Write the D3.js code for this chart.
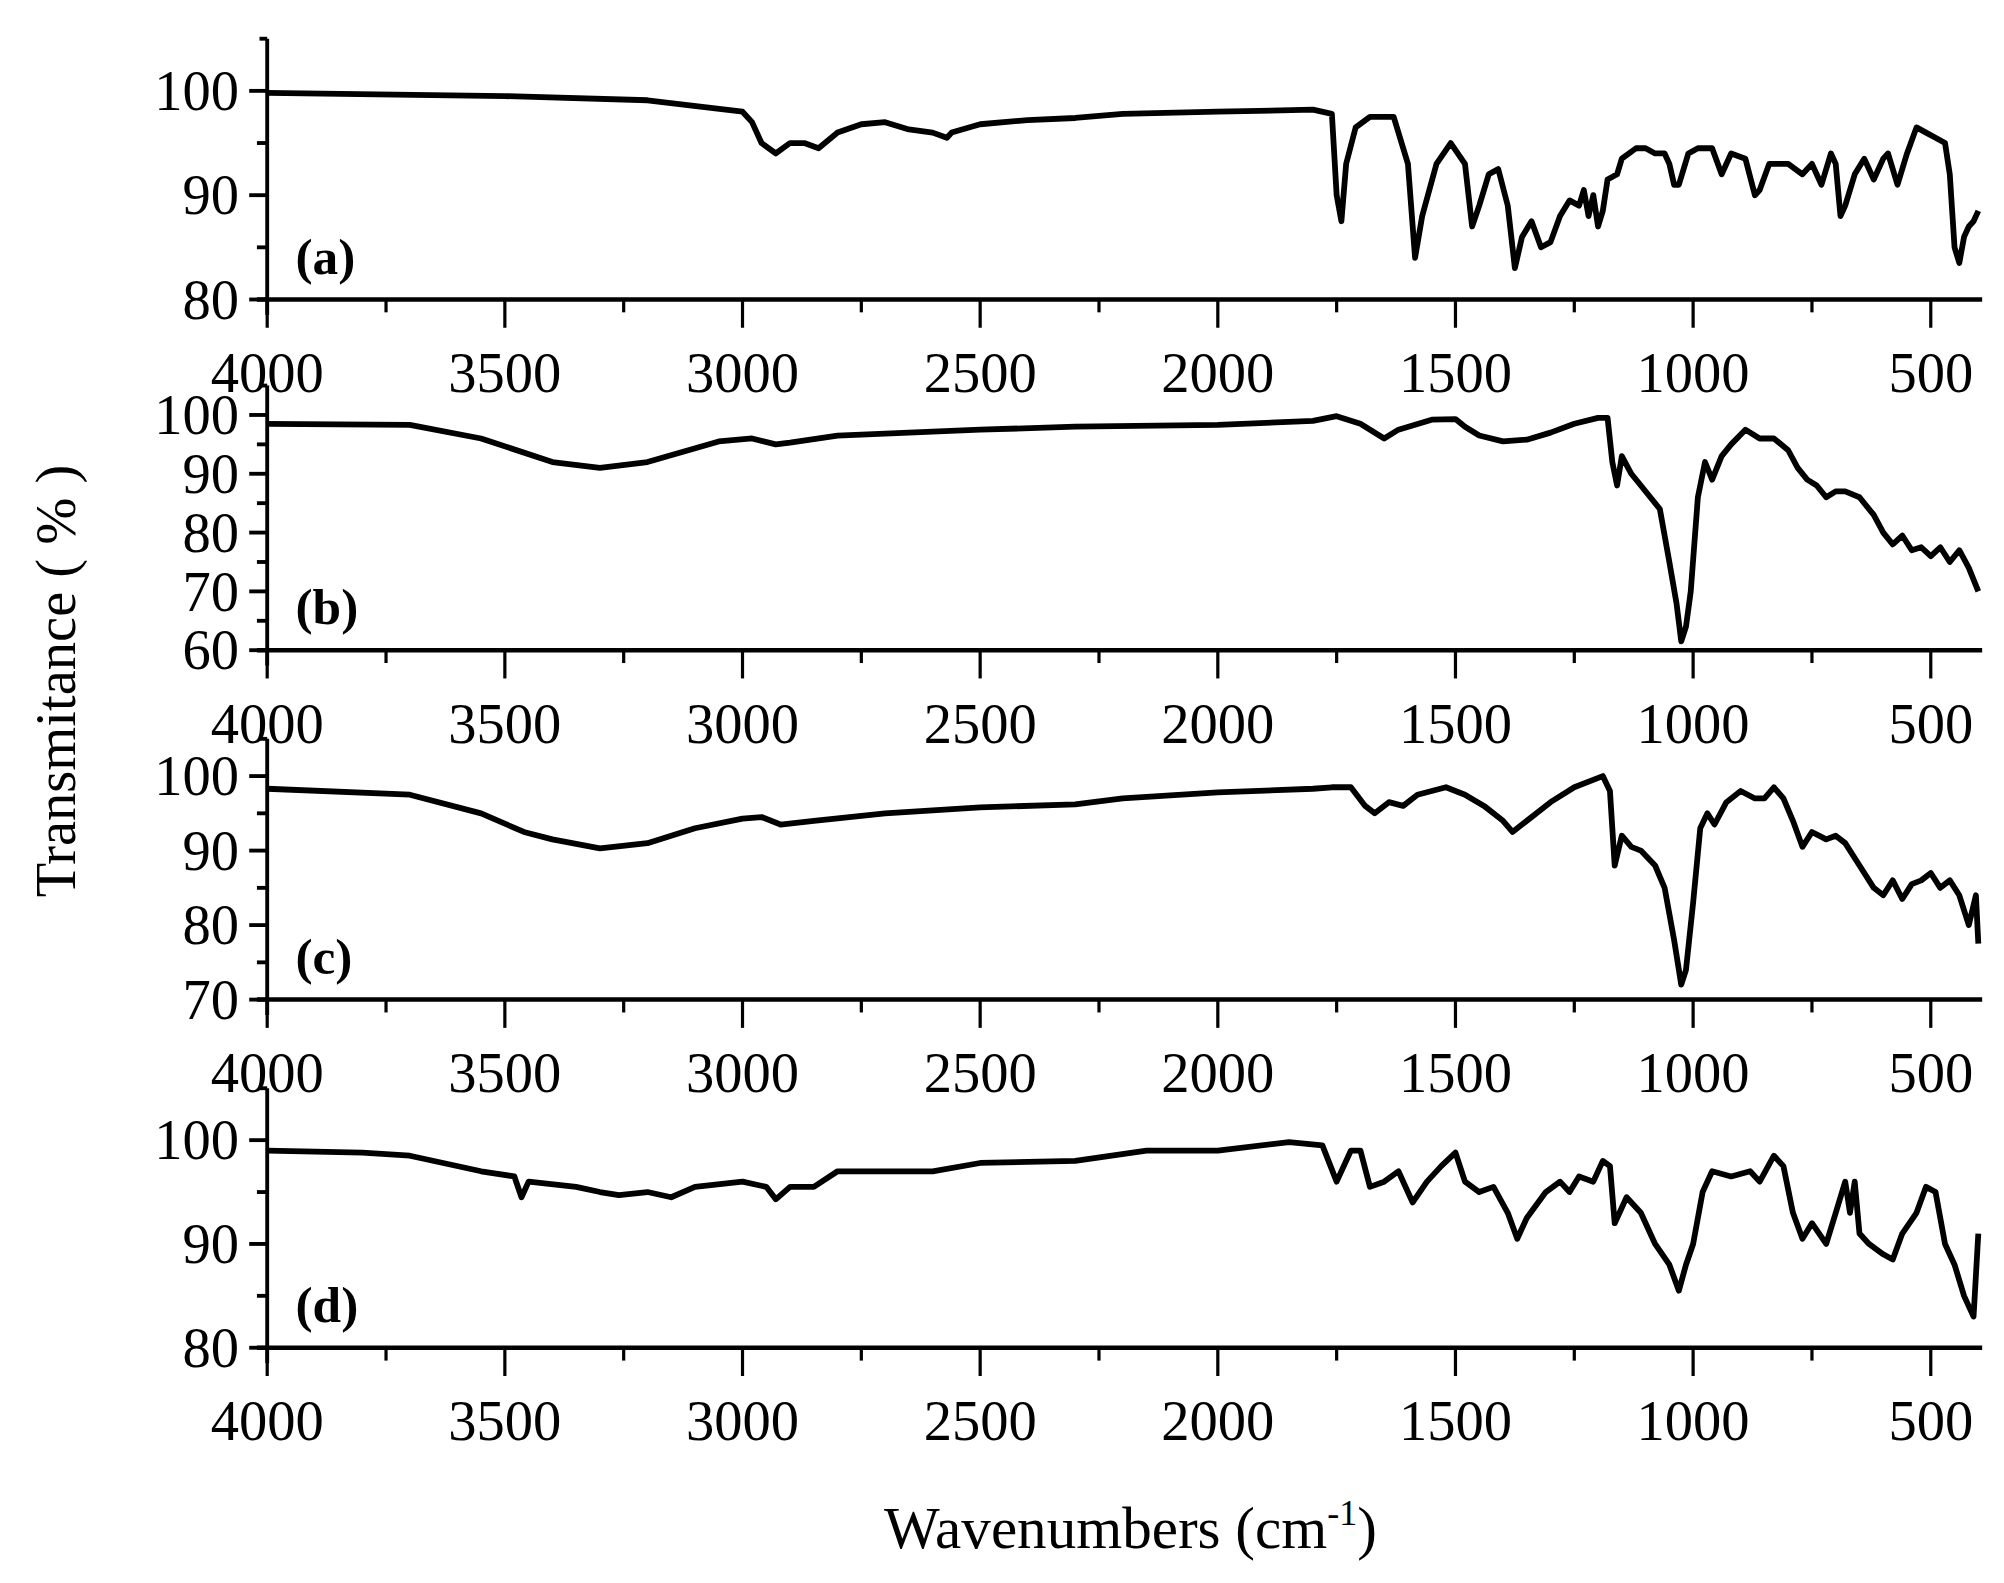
<!DOCTYPE html>
<html><head><meta charset="utf-8">
<script src="https://cdn.jsdelivr.net/npm/d3@7"></script>
<style>body{margin:0;background:#fff}</style></head>
<body><svg id="c" width="2004" height="1583" viewBox="0 0 1560 1232"></svg>
<script>
const xTicks=[4000,3500,3000,2500,2000,1500,1000,500];
const labels=["(a)","(b)","(c)","(d)"];
const yTicksA=[80,90,100], yTicksB=[60,70,80,90,100], yTicksC=[70,80,90,100], yTicksD=[80,90,100];
const specA=[[4000,99.8],[3500,99.5],[3200,99.1],[3000,98],[2980,97],[2960,95],[2930,94],[2900,95],[2870,95],[2840,94.5],[2800,96],[2750,96.8],[2700,97],[2650,96.3],[2600,96],[2570,95.5],[2560,96],[2500,96.8],[2400,97.2],[2300,97.4],[2200,97.8],[2000,98],[1800,98.2],[1760,97.8],[1750,90],[1740,87.5],[1730,93],[1710,96.5],[1680,97.5],[1630,97.5],[1600,93],[1585,84],[1570,88],[1540,93],[1510,95],[1480,93],[1465,87],[1450,89],[1430,92],[1410,92.5],[1390,89],[1375,83],[1360,86],[1340,87.5],[1320,85],[1300,85.5],[1280,88],[1260,89.5],[1240,89],[1230,90.5],[1220,88],[1210,90],[1200,87],[1190,88.5],[1180,91.5],[1160,92],[1150,93.5],[1120,94.5],[1100,94.5],[1080,94],[1060,94],[1050,93],[1040,91],[1030,91],[1010,94],[990,94.5],[960,94.5],[940,92],[920,94],[890,93.5],[870,90],[860,90.5],[840,93],[800,93],[770,92],[750,93],[730,91],[710,94],[700,93],[690,88],[680,89],[660,92],[640,93.5],[620,91.5],[600,93.5],[590,94],[570,91],[550,94],[530,96.5],[510,96],[490,95.5],[470,95],[460,92],[450,85],[440,83.5],[430,86],[420,87],[410,87.5],[400,88.5]];
const specB=[[4000,98.5],[3700,98.3],[3550,96],[3400,92],[3300,91],[3200,92],[3050,95.5],[2980,96],[2930,95],[2900,95.3],[2800,96.5],[2500,97.5],[2300,98],[2000,98.3],[1800,99],[1750,99.8],[1700,98.5],[1650,96],[1620,97.5],[1550,99.2],[1500,99.3],[1480,98],[1450,96.5],[1400,95.5],[1350,95.8],[1300,97],[1250,98.5],[1200,99.5],[1180,99.5],[1170,92],[1160,88],[1150,93],[1130,90],[1110,88],[1090,86],[1070,84],[1050,75],[1035,68],[1025,61.5],[1015,64],[1005,70],[990,86],[975,92],[960,89],[940,93],[920,95],[890,97.5],[860,96],[830,96],[800,94],[780,91],[760,89],[740,88],[720,86],[700,87],[680,87],[650,86],[620,83],[600,80],[580,78],[560,79.5],[540,77],[520,77.5],[500,76],[480,77.5],[460,75],[440,77],[420,74],[400,70]];
const specC=[[4000,98.3],[3700,97.5],[3550,95],[3460,92.5],[3400,91.5],[3300,90.3],[3200,91],[3100,93],[3000,94.3],[2960,94.5],[2920,93.5],[2850,94],[2700,95],[2500,95.8],[2300,96.2],[2200,97],[2000,97.8],[1800,98.3],[1760,98.5],[1720,98.5],[1690,96],[1670,95],[1640,96.5],[1610,96],[1580,97.5],[1520,98.5],[1480,97.5],[1440,96],[1400,94],[1380,92.5],[1360,93.5],[1300,96.5],[1250,98.5],[1190,100],[1175,98],[1165,88],[1150,92],[1130,90.5],[1110,90],[1080,88],[1060,85],[1040,78],[1025,72],[1015,74],[1000,83],[985,93],[970,95],[955,93.5],[930,96.5],[900,98],[870,97],[850,97],[830,98.5],[810,97],[790,94],[770,90.5],[750,92.5],[720,91.5],[700,92],[680,91],[650,88],[620,85],[600,84],[580,86],[560,83.5],[540,85.5],[520,86],[500,87],[480,85],[460,86],[440,84],[420,80],[405,84],[400,77.5]];
const specD=[[4000,99],[3800,98.8],[3700,98.5],[3550,97],[3480,96.5],[3465,94.5],[3450,96],[3350,95.5],[3300,95],[3260,94.7],[3200,95],[3150,94.5],[3100,95.5],[3000,96],[2950,95.5],[2930,94.3],[2900,95.5],[2850,95.5],[2800,97],[2600,97],[2500,97.8],[2300,98],[2150,99],[2000,99],[1850,99.8],[1780,99.5],[1750,96],[1720,99],[1700,99],[1680,95.5],[1650,96],[1620,97],[1590,94],[1560,96],[1530,97.5],[1500,98.8],[1480,96],[1450,95],[1420,95.5],[1390,93],[1370,90.5],[1350,92.5],[1310,95],[1280,96],[1260,95],[1240,96.5],[1210,96],[1190,98],[1175,97.5],[1165,92],[1140,94.5],[1110,93],[1080,90],[1050,88],[1030,85.5],[1015,88],[1000,90],[980,95],[960,97],[920,96.5],[880,97],[860,96],[830,98.5],[810,97.5],[790,93],[770,90.5],[750,92],[720,90],[700,93],[680,96],[670,93],[660,96],[650,91],[630,90],[600,89],[580,88.5],[560,91],[530,93],[510,95.5],[490,95],[470,90],[450,88],[430,85],[410,83],[400,91]];

const panels=[
 {data:specA,yt:yTicksA,min:80,top:30,bot:233,lab:labels[0]},
 {data:specB,yt:yTicksB,min:60,top:300,bot:506,lab:labels[1]},
 {data:specC,yt:yTicksC,min:70,top:575,bot:778,lab:labels[2]},
 {data:specD,yt:yTicksD,min:80,top:847,bot:1049,lab:labels[3]}];
const svg=d3.select("#c");
const x=d3.scaleLinear().domain([4000,400]).range([208,1540]);
const font="'Liberation Serif','Times New Roman',serif";
panels.forEach(p=>{
  const y=d3.scaleLinear().domain([p.min,105]).range([p.bot,p.top]);
  const g=svg.append("g");
  const minorY=d3.range(p.min+5,105,10);
  g.selectAll(".my").data(minorY).join("line").attr("x1",200).attr("x2",208).attr("y1",d=>y(d)).attr("y2",d=>y(d)).attr("stroke","#000").attr("stroke-width",3);
  g.selectAll(".My").data(p.yt).join("line").attr("x1",194).attr("x2",208).attr("y1",d=>y(d)).attr("y2",d=>y(d)).attr("stroke","#000").attr("stroke-width",3);
  g.selectAll(".ty").data(p.yt).join("text").attr("x",186).attr("y",d=>y(d)+15).attr("text-anchor","end").attr("font-family",font).attr("font-size",44).text(d=>d);
  const minorX=d3.range(3750,400,-500);
  g.selectAll(".mx").data(minorX).join("line").attr("x1",d=>x(d)).attr("x2",d=>x(d)).attr("y1",p.bot).attr("y2",p.bot+10).attr("stroke","#000").attr("stroke-width",2.5);
  g.selectAll(".Mx").data(xTicks).join("line").attr("x1",d=>x(d)).attr("x2",d=>x(d)).attr("y1",p.bot).attr("y2",p.bot+22).attr("stroke","#000").attr("stroke-width",2.5);
  g.selectAll(".tx").data(xTicks).join("text").attr("x",d=>x(d)).attr("y",p.bot+72).attr("text-anchor","middle").attr("font-family",font).attr("font-size",44).text(d=>d);
  g.append("line").attr("x1",208).attr("x2",208).attr("y1",p.top).attr("y2",p.bot+12).attr("stroke","#000").attr("stroke-width",3);
  g.append("line").attr("x1",200).attr("x2",1543).attr("y1",p.bot).attr("y2",p.bot).attr("stroke","#000").attr("stroke-width",3.5);
  g.append("line").attr("x1",202).attr("x2",208).attr("y1",p.top).attr("y2",p.top).attr("stroke","#000").attr("stroke-width",3);
  g.append("path").datum(p.data).attr("fill","none").attr("stroke","#000").attr("stroke-width",4.5).attr("stroke-linejoin","round")
   .attr("d",d3.line().x(d=>x(d[0])).y(d=>y(d[1])));
  g.append("text").attr("x",230).attr("y",p.bot-20).attr("font-family",font).attr("font-weight","bold").attr("font-size",40).text(p.lab);
});
svg.append("text").attr("transform","translate(58,530) rotate(-90)").attr("text-anchor","middle").attr("font-family",font).attr("font-size",44).text("Transmitance ( % )");
const xt=svg.append("text").attr("x",880).attr("y",1205).attr("text-anchor","middle").attr("font-family",font).attr("font-size",46);
xt.append("tspan").text("Wavenumbers (cm");
xt.append("tspan").attr("dy",-18).attr("font-size",28).text("-1");
xt.append("tspan").attr("dy",18).text(")");
</script></body></html>
